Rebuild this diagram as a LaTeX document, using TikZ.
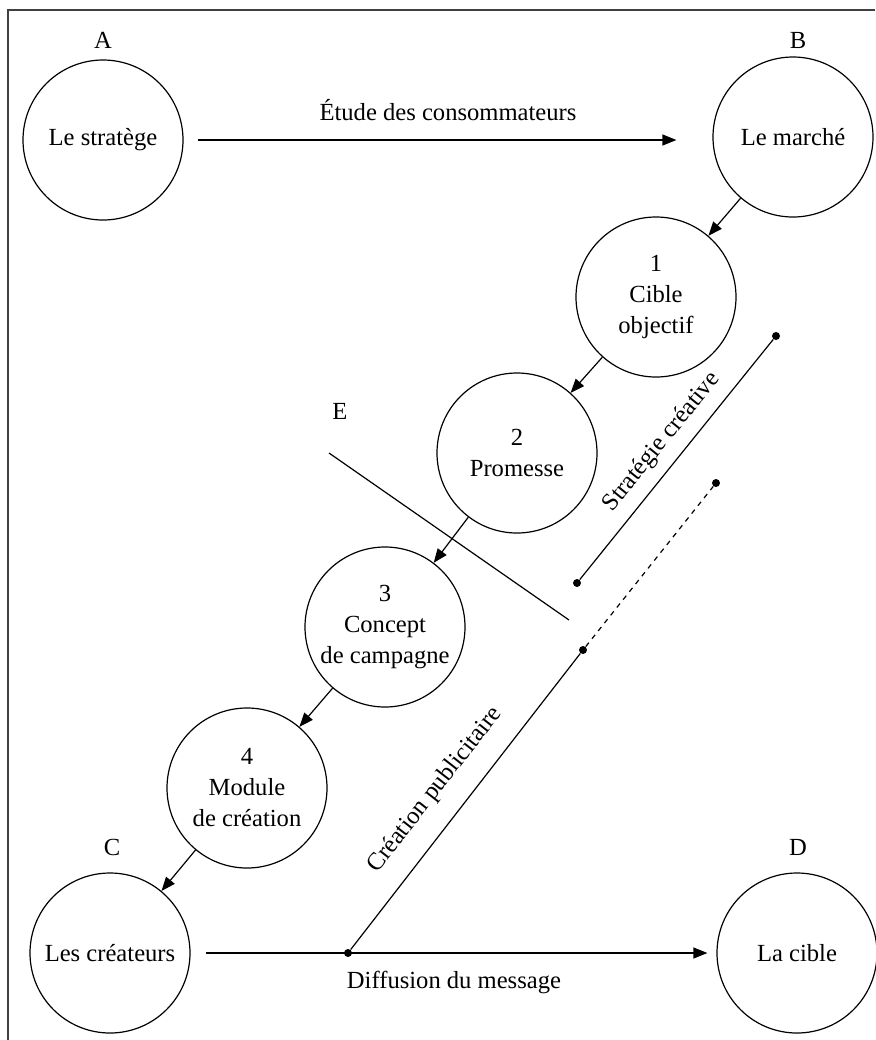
\documentclass[tikz,border=0pt]{standalone}
\usepackage{fontspec}
\setmainfont{Liberation Serif}
\usetikzlibrary{arrows.meta}
\begin{document}
\begin{tikzpicture}[x=0.5pt,y=-0.5pt,
  stage/.style={circle,draw,line width=0.6pt,minimum size=80pt,inner sep=0pt,
    align=center,font=\fontsize{12.3}{15.5}\selectfont},
  tag/.style={font=\fontsize{12.3}{15}\selectfont},
  flow/.style={line width=0.6pt,-{Triangle[length=7pt,width=5.5pt]}},
  link/.style={line width=0.6pt},
  dot/.style={circle,fill,inner sep=0pt,minimum size=4pt}]
  \useasboundingbox (0,0) rectangle (875,1040);
  % frame (top and left edges)
  \draw[line width=0.8pt,black!75] (875,10) -- (8,10) -- (8,1040);

  % actors and stages
  \node[stage] (A)  at (103,140) {Le stratège};
  \node[stage] (B)  at (793,137) {Le marché};
  \node[stage] (n1) at (656,297) {1\\Cible\\objectif};
  \node[stage] (n2) at (517,453) {2\\Promesse};
  \node[stage] (n3) at (385,627) {3\\Concept\\de campagne};
  \node[stage] (n4) at (247,788) {4\\Module\\de création};
  \node[stage] (C)  at (110,953) {Les créateurs};
  \node[stage] (D)  at (797,953) {La cible};

  % letters
  \node[tag] (lA) at (103,40) {A};
  \node[tag] (lB) at (798,40) {B};
  \node[tag] (lC) at (112,847) {C};
  \node[tag] (lD) at (798,847) {D};
  \node[tag] (lE) at (340,411) {E};

  % main flows
  \draw[flow,shorten <=7pt,shorten >=18pt] (A.east) -- (A.east -| B.west)
    node[midway,above=6pt,tag] (t1) {Étude des consommateurs};
  \draw[flow] (B) -- (n1);
  \draw[flow] (n1) -- (n2);
  \draw[flow] (n2) -- (n3);
  \draw[flow] (n3) -- (n4);
  \draw[flow] (n4) -- (C);
  \draw[flow,shorten <=7.5pt,shorten >=4.5pt] (C.east) -- (C.east -| D.west);
  \node[tag] (t2) at (454,982) {Diffusion du message};

  % separator E
  \coordinate (e1) at (329,453);
  \coordinate (e2) at (569,620);
  \draw[link] (e1) -- (e2);

  % creative strategy segment
  \node[dot] (s1) at (577,583) {};
  \node[dot] (s2) at (776,336) {};
  \draw[link] (s1) -- (s2);
  \node[tag,rotate=51] (t3) at (662,442) {Stratégie créative};

  % advertising creation segment
  \node[dot] (p0) at (348,953) {};
  \node[dot] (p1) at (583,650) {};
  \node[dot] (p2) at (716,483) {};
  \draw[link] (p0) -- (p1);
  \draw[link,dash pattern=on 2.5pt off 2.5pt] (p1) -- (p2);
  \node[tag,rotate=52] (t4) at (435,790) {Création publicitaire};
\end{tikzpicture}
\end{document}
